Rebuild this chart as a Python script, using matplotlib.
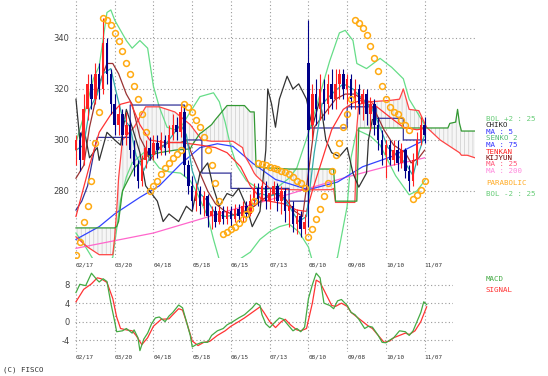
import numpy as np
import matplotlib.pyplot as plt

plt.rcParams['hatch.color'] = '#cccccc'
plt.rcParams['hatch.linewidth'] = 0.5
plt.rcParams['axes.unicode_minus'] = False

# date ticks (trading-day index)
dates = ['02/17', '03/20', '04/18', '05/18', '06/15', '07/13', '08/10', '09/08', '10/10', '11/07']
date_pos = [0, 20, 40, 60, 80, 100, 120, 140, 160, 180]

# candles, one every 2 trading days from index 0 to 180
opens = [296, 300, 292, 312, 322, 316, 326, 320, 338, 326,
         314, 306, 310, 302, 306, 296, 290, 284, 292, 297,
         294, 299, 296, 300, 297, 302, 306, 303, 311, 290,
         282, 276, 280, 274, 278, 270, 272, 268, 272, 269,
         272, 269, 273, 270, 274, 271, 276, 281, 277, 282,
         276, 279, 282, 276, 280, 272, 274, 267, 270, 265,
         330, 306, 318, 312, 320, 314, 322, 316, 322, 326,
         320, 324, 316, 320, 314, 318, 310, 314, 306, 300,
         294, 298, 292, 296, 291, 296, 288, 284, 292, 300, 306]
highs = [302, 303, 318, 326, 326, 330, 330, 348, 340, 328,
         318, 314, 312, 311, 308, 300, 292, 294, 300, 301,
         302, 302, 303, 302, 306, 310, 309, 314, 313, 292,
         286, 283, 282, 280, 279, 274, 274, 274, 274, 274,
         274, 275, 275, 276, 276, 279, 283, 283, 284, 284,
         281, 284, 283, 282, 281, 277, 276, 273, 272, 271,
         347, 322, 324, 326, 324, 326, 328, 328, 328, 328,
         326, 326, 324, 322, 320, 320, 317, 316, 309, 304,
         300, 300, 300, 300, 299, 297, 290, 295, 303, 309, 309]
lows = [290, 288, 290, 308, 312, 314, 316, 318, 322, 310,
        302, 302, 298, 298, 293, 286, 281, 282, 289, 292,
        292, 293, 294, 294, 295, 300, 300, 301, 286, 279,
        273, 272, 271, 270, 266, 265, 266, 267, 267, 267,
        266, 268, 268, 268, 269, 270, 274, 274, 276, 273,
        273, 276, 272, 271, 268, 266, 264, 263, 262, 263,
        266, 300, 306, 308, 308, 310, 312, 312, 316, 316,
        314, 312, 312, 310, 308, 306, 304, 302, 296, 290,
        285, 290, 290, 288, 289, 285, 280, 282, 290, 298, 299]
closes = [300, 292, 312, 322, 316, 326, 320, 338, 326, 314,
          306, 310, 302, 306, 296, 290, 284, 292, 297, 294,
          299, 296, 300, 297, 302, 306, 303, 311, 290, 282,
          276, 280, 274, 278, 270, 272, 268, 272, 269, 272,
          269, 273, 270, 274, 271, 276, 281, 277, 282, 276,
          279, 282, 276, 280, 272, 274, 267, 270, 265, 268,
          304, 318, 312, 320, 314, 322, 316, 322, 326, 320,
          324, 316, 320, 314, 318, 310, 314, 306, 300, 294,
          298, 292, 296, 291, 296, 288, 284, 292, 300, 306, 302]

# parabolic SAR, one dot every 2 trading days
sar = [255, 260, 268, 274, 284, 299, 311,
       348, 347, 345, 342, 339, 335, 330, 326, 321, 316, 310, 303,
       280, 282, 284, 286.5, 289, 291, 293, 294.5, 296,
       314, 313, 311, 308, 305, 301, 296, 290, 283, 276,
       263, 264, 265, 266, 267.5, 269, 271, 273, 276,
       291, 290.5, 290, 289.5, 289, 288.5, 288, 287.5, 286.5, 285.5, 284, 283, 281,
       262, 265, 269, 273, 278, 283, 288, 294, 299, 305, 310, 316,
       347, 346, 344, 341, 337, 332, 327, 321, 316, 313, 311, 310, 308, 306, 304,
       277, 278.5, 280.5, 284]

ma5_i = [0, 4, 7, 11, 14, 18, 21, 24, 28, 31, 35, 38, 42, 46, 49, 54, 57, 60, 64, 68, 72, 77, 82, 87, 91, 95,
         100, 105, 110, 115, 119, 123, 127, 132, 138, 143, 148, 153, 157, 161, 166, 170, 174, 177, 180]
ma5_v = [296, 298, 312, 318, 326, 328, 318, 309, 305, 294, 288, 293, 296, 298, 301, 306, 302, 288, 279, 276,
         271, 270, 270.5, 272, 274, 279, 278, 279, 274, 268, 270, 295, 314, 318, 322, 320, 316, 312, 305, 297,
         294, 291, 286, 295, 302]

ma25_i = [0, 7, 12, 18, 23, 28, 33, 38, 46, 54, 64, 72, 78, 85, 90, 96, 107, 114, 119, 122, 127, 132, 138,
          143, 148, 152, 157, 162, 169, 176, 180]
ma25_v = [270, 290, 303, 310, 314, 315, 306, 300, 299, 299, 298, 297, 295, 289.5, 282, 276.5, 275, 272.5,
          272, 280, 292, 304, 312, 314.5, 315.7, 315, 312, 309, 305, 304, 304.5]

ma75_i = [0, 12, 20, 33, 43, 54, 64, 73, 81, 91, 103, 120, 135, 148, 163, 180]
ma75_v = [261, 266, 271, 277.5, 282, 290.5, 297, 298.5, 297.5, 291, 284.5, 280.5, 283.5, 289.5, 293.5, 300]

ma200_i = [0, 20, 40, 60, 80, 100, 120, 140, 160, 180]
ma200_v = [257.5, 260.5, 263.5, 268, 272.5, 276.5, 281, 285.5, 289.5, 293]

bolu_i = [0, 5, 9, 12, 16, 18, 20, 23, 26, 29, 33, 37, 40, 43, 47, 51, 55, 59, 64, 71, 74, 77, 80, 83, 88,
          93, 98, 105, 110, 114, 121, 126, 131, 136, 139, 143, 145, 150, 157, 163, 169, 172, 176, 180]
bolu_v = [299, 312, 324, 329, 350, 351, 347, 343, 339, 336, 339, 336, 321, 313, 305, 304, 306, 311, 317,
          318.5, 315, 307, 297, 290, 284, 281.5, 280.5, 282, 285, 289, 305, 318, 331, 342, 343, 339, 330,
          328, 332, 328.5, 324, 316, 311, 306]

boll_i = [0, 5, 9, 17, 19, 21, 23, 26, 29, 35, 38, 43, 48, 54, 59, 62, 68, 71, 74, 82, 90, 95, 100, 105,
          110, 115, 120, 123, 131, 135, 140, 142, 145, 152, 157, 165, 172, 176, 180]
boll_v = [263.5, 258, 253, 252, 254, 265, 276.5, 285.5, 291, 295, 294, 289, 287.5, 287, 284, 280, 270, 261,
          253, 252, 256, 261, 264, 266, 267, 264, 258, 250, 250, 254, 274, 293, 304, 301.5, 298, 286,
          278.5, 280, 284]

tenkan_i = [0, 4, 7, 12, 16, 19, 22, 26, 29, 33, 37, 38, 43, 48, 54, 57, 60, 64, 68, 72, 77, 82, 87, 92,
            97, 103, 108, 113, 117, 120, 123, 128, 134, 139, 144, 149, 154, 159, 164, 170, 173, 177, 180]
tenkan_v = [285, 290, 305, 322, 330, 330, 326, 318, 314, 301, 295, 292, 297, 299, 299, 300, 294, 287, 280,
            275, 272, 270.5, 272, 274, 277, 279, 277, 272, 270, 287, 305, 310, 316, 318, 318, 315, 312,
            304, 298, 295, 291, 293, 296]

kijun_i = [0, 3, 6, 8, 10, 11, 28, 28, 56, 56, 65, 65, 80, 80, 110, 110, 120, 120, 140, 140, 155, 155,
           169, 169, 180]
kijun_v = [272.5, 276, 282, 290, 298, 301, 301, 313.7, 313.7, 300, 300, 287, 287, 281, 281, 276, 276,
           304.7, 304.7, 313, 313, 308.5, 308.5, 300, 300]

chiko_i = [0, 2, 4, 7, 11, 12, 16, 20, 23, 26, 29, 33, 36, 42, 45, 48, 53, 57, 60, 64, 68, 71, 74, 78, 81,
           84, 88, 91, 95, 98, 99, 101, 103, 105, 109, 112, 115, 119, 122, 126, 129, 132, 136, 140, 143,
           146, 150, 151, 153]
chiko_v = [316, 300, 305, 293, 297, 292, 303, 300, 298, 312, 305, 295, 282, 276, 268, 271, 268, 274, 272,
           287, 291, 281, 274, 279, 278, 281, 274, 266, 272, 296, 320, 314, 305, 316, 325, 320, 322, 316,
           305, 316, 300, 295, 293.5, 297, 287, 281.5, 287, 300, 308]

# ichimoku cloud (leading spans, run 26 days past the last candle)
senkou_i = [0, 6, 12, 19, 20, 21, 22, 24, 30, 36, 43, 51, 59, 60, 64, 65, 70, 72, 78, 81, 86, 87, 90, 92,
            93, 100, 110, 118, 132, 133, 134, 135, 144, 145, 146, 152, 162, 167, 169, 172, 177, 181, 188,
            192, 193, 196, 197, 198, 199, 202, 206]
senkou1 = [262, 258, 255, 255, 262, 272, 285, 300, 305, 313, 313, 311, 306, 305, 301, 300, 299.5, 299.5,
           299.5, 299.5, 297, 294, 290, 287, 286, 281, 280.5, 280.4, 280.5, 281, 275.5, 275.5, 275.5, 305,
           314, 315, 315.5, 316, 320, 312, 311.5, 305, 300, 298, 297.5, 296, 295.5, 295, 294, 294, 293]
senkou2 = [265.5, 265.5, 265.5, 265.5, 265.5, 266, 268, 280, 289, 293.5, 295, 296, 296.5, 298, 302.5, 303,
           306, 308, 313.5, 313.5, 313.5, 313.5, 311, 311, 289.5, 289, 288.6, 288.6, 288.6, 288.6, 276, 276,
           276, 276, 304.7, 304.7, 304.7, 304.7, 304.7, 304.7, 304.7, 304.7, 304.7, 304.7, 306.5, 307, 312,
           306.5, 303.5, 303.5, 303.5]

macd_i = [0, 2, 5, 8, 11, 12, 14, 16, 18, 20, 21, 24, 26, 29, 30, 32, 33, 35, 37, 39, 41, 43, 46, 48, 50,
          53, 55, 57, 59, 60, 62, 65, 68, 70, 73, 76, 78, 81, 84, 87, 91, 93, 95, 96, 98, 100, 103, 105,
          107, 109, 112, 114, 116, 118, 120, 122, 124, 126, 128, 131, 133, 135, 137, 140, 142, 144, 146,
          149, 151, 153, 156, 158, 160, 162, 164, 167, 170, 172, 174, 176, 178, 179.5, 181]
macd_v = [6.3, 8.1, 7.8, 10.5, 9.0, 8.6, 9.3, 8.7, 4, 0, -2.2, -2, -1.5, -2.5, -1.8, -3.5, -6.3, -3.8,
          -2.5, -0.5, 0.8, 1.0, 0, 1.2, 2.0, 3.6, 3.0, 0, -3, -5.5, -5, -4.5, -4.5, -3, -2, -1.5, -0.7, 0,
          0.8, 1.5, 3, 4, 3.5, 1.5, -0.5, -1.3, 0, 0.8, 0.5, -0.5, -2, -1.5, -2.2, -1.2, 5, 8, 10.5, 9.5, 4,
          3.5, 2.8, 4.5, 4.8, 3.5, 2.0, 1.5, 0.5, -1.5, -1.0, -1.2, -3, -4.5, -4.6, -4, -3.5, -2, -2.2, -3,
          -2, 0, 2, 4.3, 3.7]
signal_i = [0, 4, 8, 11, 13, 16, 19, 21, 23, 26, 29, 31, 34, 37, 40, 44, 48, 50, 53, 55, 57, 60, 63, 66,
            69, 73, 77, 80, 84, 87, 91, 95, 97, 100, 103, 106, 108, 111, 114, 116, 119, 122, 124, 126, 129,
            132, 134, 137, 140, 142, 145, 148, 151, 153, 156, 159, 162, 164, 167, 170, 172, 175, 178, 181]
signal_v = [4.3, 7, 8.2, 9.5, 9.3, 8.5, 5, 1, -1.5, -1.8, -2, -3, -5, -3.5, -1, 0.5, 0.6, 1.5, 2.8, 2.5,
            0, -4.2, -5.2, -4.5, -4.3, -3, -2, -1, 0, 0.8, 2, 3.2, 2, 0, -1.3, 0, 0.5, -0.8, -1.8, -2, -1.5,
            4, 9, 8.5, 6, 3.5, 3.3, 4, 3.3, 2, 1, 0, -1, -1.5, -3, -4.5, -4.2, -3.5, -3, -2.5, -2.8, -2, 0, 3.2]

W, H = 548, 376
fig = plt.figure(figsize=(W / 100, H / 100), dpi=100)
grid_kw = dict(color='#9a9a9a', lw=0.8, ls=(0, (1, 2.2)), zorder=0)

# ---- price panel
ax = fig.add_axes([75 / W, 1 - 258 / H, 400 / W, 258 / H])
ax.set_xlim(-0.5, 206)
ax.set_ylim(253.7, 354.9)
for p in date_pos:
    ax.axvline(p, **grid_kw)
for v in [280, 300, 320, 340]:
    ax.axhline(v, **grid_kw)

ax.fill_between(senkou_i, senkou1, senkou2, facecolor='#f6f6f6', edgecolor='#cccccc',
                hatch='||||', linewidth=0, zorder=1)
ax.plot(bolu_i, bolu_v, color='#66dd88', lw=0.9, zorder=2)
ax.plot(boll_i, boll_v, color='#66dd88', lw=0.9, zorder=2)
ax.plot(ma200_i, ma200_v, color='#ff66cc', lw=0.9, zorder=2)
ax.plot(ma75_i, ma75_v, color='#3344ff', lw=0.9, zorder=2)
ax.plot(senkou_i, senkou1, color='#ff4444', lw=0.9, zorder=2)
ax.plot(senkou_i, senkou2, color='#339933', lw=0.9, zorder=2)
ax.plot(kijun_i, kijun_v, color='#333399', lw=0.9, zorder=2)
ax.plot(tenkan_i, tenkan_v, color='#993333', lw=0.9, zorder=2)
ax.plot(chiko_i, chiko_v, color='#333333', lw=0.9, zorder=2)
ax.plot(ma25_i, ma25_v, color='#ff3333', lw=0.9, zorder=2)
ax.plot(ma5_i, ma5_v, color='#33aaaa', lw=0.9, zorder=2)

cx = np.arange(0, 181, 2)
o = np.array(opens, dtype=float)
c = np.array(closes, dtype=float)
cols = np.where(c >= o, '#ff2222', '#000088')
ax.vlines(cx, lows, highs, colors=cols, lw=0.8, zorder=3)
ax.bar(cx, np.maximum(np.abs(c - o), 0.6), bottom=np.minimum(o, c), width=1.3, color=cols, zorder=3)

ax.plot(cx, sar, ls='none', marker='o', ms=4.2, mfc='none', mec='#ffaa11', mew=1.1, zorder=4)

for s in ax.spines.values():
    s.set_visible(False)
ax.set_yticks([280, 300, 320, 340])
ax.set_xticks(date_pos)
ax.set_xticklabels(dates, family='DejaVu Sans Mono', fontsize=4.3, color='#333333', ha='left')
ax.tick_params(length=0, labelsize=6, labelcolor='#444444')
ax.tick_params(axis='y', pad=4)
ax.tick_params(axis='x', pad=3, labelsize=4.3, labelcolor='#333333')

# ---- MACD panel
ax2 = fig.add_axes([75 / W, 1 - 352 / H, 378 / W, 82 / H])
ax2.set_xlim(-0.5, 194.6)
ax2.set_ylim(-6.6, 11.2)
for p in date_pos:
    ax2.axvline(p, **grid_kw)
for v in [-4, 0, 4, 8]:
    ax2.axhline(v, **grid_kw)
ax2.plot(signal_i, signal_v, color='#ff3333', lw=0.9, zorder=2)
ax2.plot(macd_i, macd_v, color='#44aa44', lw=0.9, zorder=3)
for s in ax2.spines.values():
    s.set_visible(False)
ax2.set_yticks([-4, 0, 4, 8])
ax2.set_xticks(date_pos)
ax2.set_xticklabels(dates, family='DejaVu Sans Mono', fontsize=4.3, color='#333333', ha='left')
ax2.tick_params(length=0, labelsize=6, labelcolor='#444444')
ax2.tick_params(axis='y', pad=4)
ax2.tick_params(axis='x', pad=2, labelsize=4.3, labelcolor='#333333')

# ---- legend texts on the right, stacked tightly
mono = dict(family='DejaVu Sans Mono', fontsize=5.4, va='center')
labels = [('BOL +2 : 25', '#66cc77', 119), ('CHIKO', '#222222', 125.5), ('MA : 5', '#3333ff', 132),
          ('SENKO 2', '#55bb77', 138.5), ('MA : 75', '#3333ff', 145), ('TENKAN', '#ff2222', 151.5),
          ('KIJYUN', '#770000', 158), ('MA : 25', '#ff5577', 164.5), ('MA : 200', '#ff88dd', 171),
          ('PARABOLIC', '#ffaa22', 183), ('BOL -2 : 25', '#66cc77', 194),
          ('MACD', '#44aa44', 279), ('SIGNAL', '#ff3333', 290)]
for txt, col, yp in labels:
    fig.text(486 / W, 1 - yp / H, txt, color=col, **mono)
fig.text(3 / W, 1 - 370 / H, '(C) FISCO', color='#333333', **mono)

fig.savefig('out.png', dpi=100, facecolor='white')
